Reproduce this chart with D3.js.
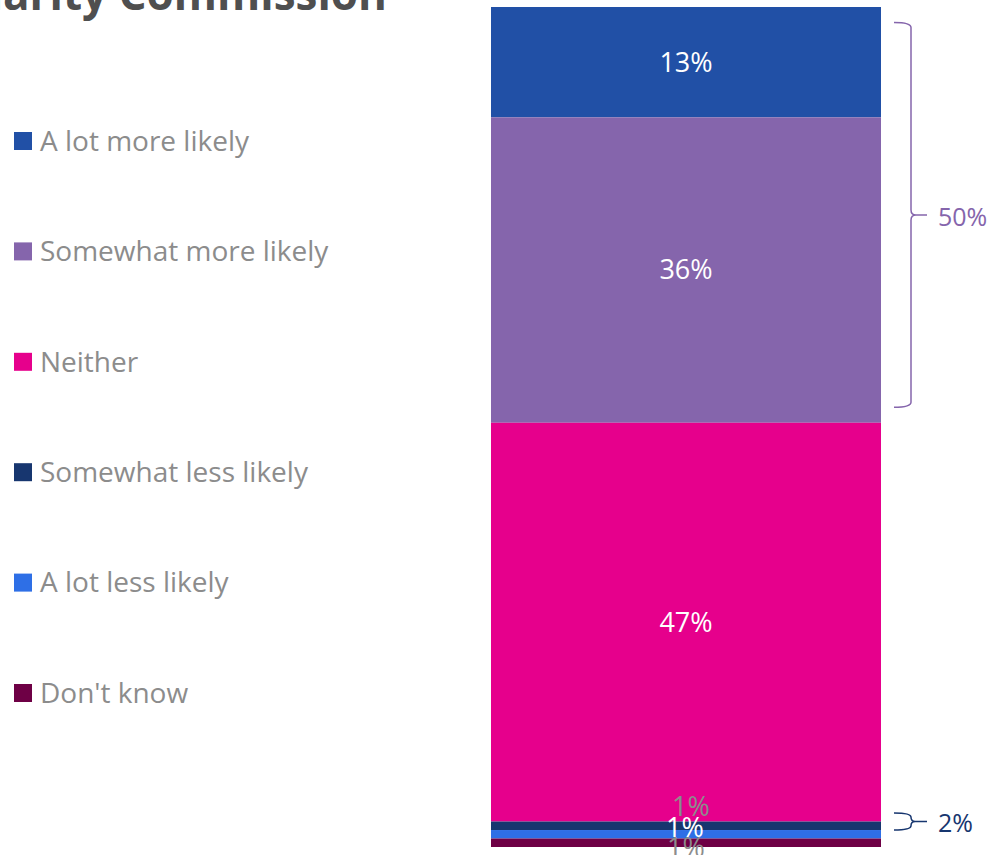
<!DOCTYPE html>
<html>
<head>
<meta charset="utf-8">
<script src="https://cdn.jsdelivr.net/npm/d3@7"></script>
<style>
  html, body { margin: 0; padding: 0; background: #fff; overflow: hidden; }
  svg { display: block; }
</style>
</head>
<body>
<svg id="chart" width="989" height="855"></svg>
<script>
// Response categories, values (%) and colours for the single stacked bar
const categories = ["A lot more likely", "Somewhat more likely", "Neither",
                    "Somewhat less likely", "A lot less likely", "Don't know"];
const values = [13, 36, 47, 1, 1, 1];
const colors = ["#2150a6", "#8565ac", "#e6008c", "#17366f", "#2e6fe6", "#6e0045"];
const barName = ["Charity Commission"];

// Grouped totals shown with braces beside the bar: [first index, last index]
const groupRanges = [[0, 1], [3, 4]];
const groupLabels = ["50%", "2%"];
const groupColors = ["#8565ac", "#17366f"];

const svg = d3.select("#chart");
const fontStack = "'Open Sans', 'Noto Sans', sans-serif";

// Title (runs off the left edge)
svg.append("text")
  .attr("x", 387).attr("y", 10)
  .attr("text-anchor", "end")
  .attr("font-family", fontStack)
  .attr("font-weight", 700)
  .attr("font-size", 44)
  .attr("fill", "#4f4f4f")
  .text("Charity Commission");

// Stack the values into one column
const row = {};
categories.forEach((c, i) => row[c] = values[i]);
const series = d3.stack().keys(categories)([row]);
const total = d3.sum(values);

const x = d3.scaleBand().domain(barName).range([491, 881]).padding(0);
const y = d3.scaleLinear().domain([0, total]).range([7, 847]);

svg.append("g").selectAll("rect")
  .data(series)
  .join("rect")
  .attr("x", x(barName[0]))
  .attr("width", x.bandwidth())
  .attr("y", d => y(d[0][0]))
  .attr("height", d => y(d[0][1]) - y(d[0][0]))
  .attr("fill", (d, i) => colors[i]);

// Value labels; the thin segments have their labels nudged apart
const labelFill = ["#fff", "#fff", "#fff", "#8c8c8c", "#fff", "#8c8c8c"];
const labelDy = [0, 0, 0, -19, -7, 5];
const labelDx = [0, 0, 0, 5, -1, 0];
svg.append("g").selectAll("text")
  .data(series)
  .join("text")
  .attr("x", (d, i) => x(barName[0]) + x.bandwidth() / 2 + labelDx[i])
  .attr("y", (d, i) => (y(d[0][0]) + y(d[0][1])) / 2 + labelDy[i])
  .attr("dy", "0.35em")
  .attr("text-anchor", "middle")
  .attr("font-family", fontStack)
  .attr("font-size", 27)
  .attr("fill", (d, i) => labelFill[i])
  .text((d, i) => values[i] + "%");

// Legend
const legend = svg.append("g").selectAll("g")
  .data(categories)
  .join("g")
  .attr("transform", (d, i) => `translate(14, ${141 + i * 110.4})`);
legend.append("rect")
  .attr("x", 0).attr("y", -9)
  .attr("width", 18).attr("height", 18)
  .attr("fill", (d, i) => colors[i]);
legend.append("text")
  .attr("x", 26).attr("y", 0)
  .attr("dy", "0.35em")
  .attr("font-family", fontStack)
  .attr("font-size", 28)
  .attr("fill", "#8c8c8c")
  .text(d => d);

// Right-hand braces summarising groups of segments
const braceInset = [15.5, 0];
const braceShift = [0, -8.5];
groupRanges.forEach((g, k) => {
  const top = y(series[g[0]][0][0]) + braceInset[k] + braceShift[k];
  const bot = y(series[g[1]][0][1]) - braceInset[k] + braceShift[k];
  const mid = (top + bot) / 2;
  const x0 = x(barName[0]) + x.bandwidth() + 13;
  const x1 = x0 + 17, x2 = x1 + 16;
  const r = Math.min(5, (bot - top) / 4);
  const p = d3.path();
  p.moveTo(x0, top);
  p.quadraticCurveTo(x1, top, x1, top + r);
  p.lineTo(x1, mid - r);
  p.quadraticCurveTo(x1, mid, x1 + r, mid);
  p.lineTo(x2, mid);
  p.moveTo(x1 + r, mid);
  p.quadraticCurveTo(x1, mid, x1, mid + r);
  p.lineTo(x1, bot - r);
  p.quadraticCurveTo(x1, bot, x0, bot);
  svg.append("path")
    .attr("d", p.toString())
    .attr("fill", "none")
    .attr("stroke", groupColors[k])
    .attr("stroke-width", 1.5);
  svg.append("text")
    .attr("x", x2 + 11).attr("y", mid + 2)
    .attr("dy", "0.35em")
    .attr("font-family", fontStack)
    .attr("font-size", 25)
    .attr("fill", groupColors[k])
    .text(groupLabels[k]);
});
</script>
</body>
</html>
